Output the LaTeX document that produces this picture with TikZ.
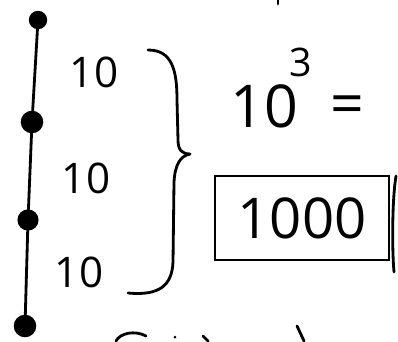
\documentclass[tikz,border=0pt]{standalone}
\usepackage{fontspec}
\setmainfont{Open Sans}
\usetikzlibrary{positioning}
\tikzset{
  dotmark/.style={circle,fill=black,draw=black,inner sep=0pt,minimum size=#1},
  dotmark/.default=14pt,
  tenlabel/.style={font=\fontsize{30}{32}\selectfont,inner sep=0pt},
  biglabel/.style={font=\fontsize{42}{44}\selectfont,inner sep=0pt},
  resultbox/.style={draw,line width=1.8pt,font=\fontsize{40}{42}\selectfont,minimum width=4.35cm,minimum height=2.1cm}
}

\begin{document}
\begin{tikzpicture}[x=0.025cm,y=-0.025cm,line width=2pt,line cap=round]
  \useasboundingbox (0,0) rectangle (398,341);
  % the line with its four dots
  \node[dotmark=11pt] (d1) at (38,20) {};
  \node[dotmark] (d2) at (32,122) {};
  \node[dotmark=13pt] (d3) at (28,220) {};
  \node[dotmark] (d4) at (25,326) {};
  \draw (d1) -- (d2) -- (d3) -- (d4);
  % the three tens
  \node[tenlabel] (t1) at (94,72) {10};
  \node[tenlabel] (t2) at (86,178) {10};
  \node[tenlabel] (t3) at (79,272) {10};
  % brace
  \draw (148,50) .. controls (172,50) and (177,70) .. (177,100) -- (178,140)
    .. controls (178,150) and (182,154) .. (190,154);
  \draw (190,154) .. controls (180,156) and (175,165) .. (174,182) -- (173,262)
    .. controls (172,285) and (160,296) .. (128,293);
  % power and result
  \node[biglabel] (pw) at (264,106) {10};
  \node[font=\fontsize{28}{30}\selectfont,inner sep=0pt] (ex) at (301,62) {3};
  \node[biglabel] (eq) at (347,110) {=};
  \node[resultbox] (res) at (302,218) {1000};
  % strokes cut off at the edges
  \draw (396,176) .. controls (392,200) and (392,250) .. (394,272);
  \draw (278,0) -- (278,4);
  \draw (116,341) .. controls (120,333) and (135,330) .. (146,336);
  \fill (175,337) circle (1.5);
  \draw (203,336) -- (208,341);
  \draw (297,326) -- (304,341);
\end{tikzpicture}
\end{document}
